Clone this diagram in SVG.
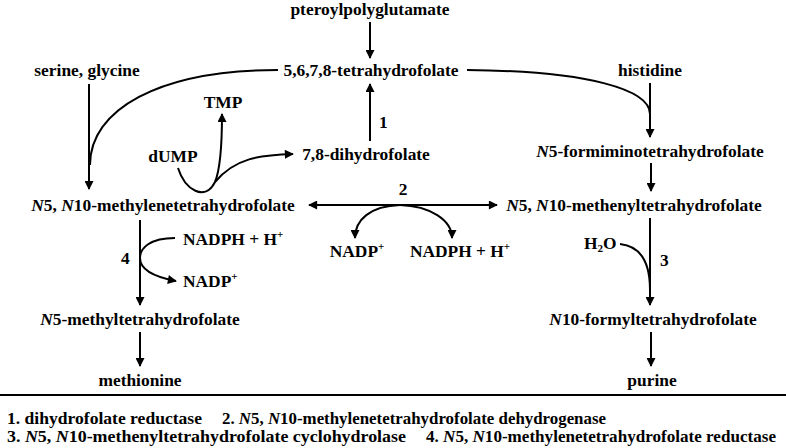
<svg xmlns="http://www.w3.org/2000/svg" width="786" height="448" viewBox="0 0 786 448">
<defs>
<marker id="ah" viewBox="0 0 10 10" refX="9" refY="5" markerWidth="11" markerHeight="9" markerUnits="userSpaceOnUse" orient="auto-start-reverse">
<path d="M0,0 L10,5 L0,10 Z" fill="#000"/>
</marker>
<style>
.t{font-family:'Liberation Serif',serif;font-weight:bold;font-size:17.4px;fill:#000}
.c{text-anchor:middle}
.lg{font-size:17px}
.i{font-style:italic}
.sup{font-size:11px}
path.w{fill:none;stroke:#000;stroke-width:2}
</style>
</defs>
<rect width="786" height="448" fill="#fff"/>
<g id="connectors">
<path class="w" d="M370 22 L370 58" marker-end="url(#ah)"/>
<path class="w" d="M467 70 C590 71 650 90 650 114"/>
<path class="w" d="M650 83 L650 137" marker-end="url(#ah)"/>
<path class="w" d="M278 70 C158 70 90 110 90 165"/>
<path class="w" d="M89 84 L89 189" marker-end="url(#ah)"/>
<path class="w" d="M370 141 L370 84" marker-end="url(#ah)"/>
<path class="w" d="M178 168 C185 190 205 202 215 182 C220 170 222 140 222 114" marker-end="url(#ah)"/>
<path class="w" d="M215 182 C235 158 260 155 293 154" marker-end="url(#ah)"/>
<path class="w" d="M309 205 L497 205" marker-start="url(#ah)" marker-end="url(#ah)"/>
<path class="w" d="M400 205 C370 206 355 220 355 238" marker-end="url(#ah)"/>
<path class="w" d="M400 205 C430 206 452 220 452 238" marker-end="url(#ah)"/>
<path class="w" d="M140 220 L140 305" marker-end="url(#ah)"/>
<path class="w" d="M175 238 C150 238 140 248 140 258 C140 272 160 278 176 281" marker-end="url(#ah)"/>
<path class="w" d="M140 332 L140 366" marker-end="url(#ah)"/>
<path class="w" d="M651 163 L651 191" marker-end="url(#ah)"/>
<path class="w" d="M650 218 L650 305" marker-end="url(#ah)"/>
<path class="w" d="M620 244 C640 246 650 262 650 290"/>
<path class="w" d="M651 332 L651 366" marker-end="url(#ah)"/>
<path class="w" d="M0 395 L786 395"/>
</g>
<g font-family="Liberation Serif, serif" font-weight="bold" font-size="17.4">
<g id="n-pteroyl"><text class="t c" x="370" y="15">pteroylpolyglutamate</text></g>
<g id="n-thf"><text class="t c" x="371" y="76">5,6,7,8-tetrahydrofolate</text></g>
<g id="n-serine"><text class="t c" x="87" y="76">serine, glycine</text></g>
<g id="n-histidine"><text class="t c" x="650" y="76">histidine</text></g>
<g id="n-tmp"><text class="t c" x="223" y="108">TMP</text></g>
<g id="n-dump"><text class="t c" x="173" y="162">dUMP</text></g>
<g id="n-dhf"><text class="t c" x="366" y="160">7,8-dihydrofolate</text></g>
<g id="l-1"><text class="t" x="379" y="128">1</text></g>
<g id="n-formimino"><text class="t c" x="650" y="157"><tspan class="i">N</tspan>5-formiminotetrahydrofolate</text></g>
<g id="n-methylene"><text class="t c" x="163" y="211"><tspan class="i">N</tspan>5, <tspan class="i">N</tspan>10-methylenetetrahydrofolate</text></g>
<g id="n-methenyl"><text class="t c" x="634" y="211"><tspan class="i">N</tspan>5, <tspan class="i">N</tspan>10-methenyltetrahydrofolate</text></g>
<g id="l-2"><text class="t c" x="403" y="195">2</text></g>
<g id="n-nadp2"><text class="t c" x="357" y="257">NADP<tspan class="sup" dy="-7">+</tspan></text></g>
<g id="n-nadph2"><text class="t c" x="460" y="257">NADPH + H<tspan class="sup" dy="-7">+</tspan></text></g>
<g id="n-nadph4"><text class="t" x="183" y="245">NADPH + H<tspan class="sup" dy="-7">+</tspan></text></g>
<g id="n-nadp4"><text class="t" x="183" y="287">NADP<tspan class="sup" dy="-7">+</tspan></text></g>
<g id="l-4"><text class="t" x="121" y="264">4</text></g>
<g id="n-h2o"><text class="t" x="584" y="249">H<tspan class="sup" dy="3">2</tspan><tspan dy="-3">O</tspan></text></g>
<g id="l-3"><text class="t" x="660" y="266">3</text></g>
<g id="n-methyl"><text class="t c" x="140" y="325"><tspan class="i">N</tspan>5-methyltetrahydrofolate</text></g>
<g id="n-formyl"><text class="t c" x="653" y="325"><tspan class="i">N</tspan>10-formyltetrahydrofolate</text></g>
<g id="n-methionine"><text class="t c" x="140" y="386">methionine</text></g>
<g id="n-purine"><text class="t c" x="652" y="386">purine</text></g>
<g id="legend">
<text class="t lg" x="7" y="424" textLength="195" lengthAdjust="spacingAndGlyphs">1. dihydrofolate reductase</text>
<text class="t lg" x="222" y="424" textLength="384" lengthAdjust="spacingAndGlyphs">2. <tspan class="i">N</tspan>5, <tspan class="i">N</tspan>10-methylenetetrahydrofolate dehydrogenase</text>
<text class="t lg" x="7" y="442" textLength="399" lengthAdjust="spacingAndGlyphs">3. <tspan class="i">N</tspan>5, <tspan class="i">N</tspan>10-methenyltetrahydrofolate cyclohydrolase</text>
<text class="t lg" x="426" y="442" textLength="350" lengthAdjust="spacingAndGlyphs">4. <tspan class="i">N</tspan>5, <tspan class="i">N</tspan>10-methylenetetrahydrofolate reductase</text>
</g>
</g>
</svg>
